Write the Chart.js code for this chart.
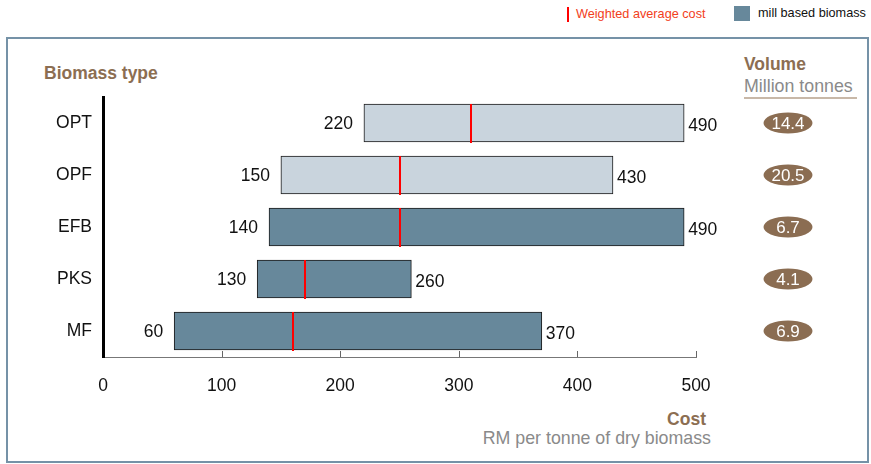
<!DOCTYPE html>
<html>
<head>
<meta charset="utf-8">
<script src="https://cdn.jsdelivr.net/npm/chart.js@4"></script>
<style>
  body { margin: 0; background: #fff; font-family: "Liberation Sans", Arial, sans-serif; }
  #wrap { position: relative; width: 871px; height: 464px; overflow: hidden; }
  #frame { position: absolute; left: 6px; top: 37px; width: 859px; height: 422px; border: 2px solid #7592a7; }
  canvas { position: absolute; left: 0; top: 0; }
  .txt { position: absolute; white-space: nowrap; line-height: 1; }
  .brown { color: #8c6e52; font-weight: bold; font-size: 17.5px; }
  .grey { color: #8a8a8a; font-size: 17.8px; }
</style>
</head>
<body>
<div id="wrap">
  <div id="frame"></div>

  <!-- legend -->
  <div style="position:absolute;left:567px;top:7px;width:2px;height:15px;background:#f00;"></div>
  <div class="txt" style="left:576px;top:8px;font-size:12.7px;color:#f2401c;">Weighted average cost</div>
  <div style="position:absolute;left:734px;top:6px;width:16px;height:15px;background:#67889b;"></div>
  <div class="txt" style="left:758px;top:7px;font-size:12.7px;color:#111;">mill based biomass</div>

  <div class="txt brown" style="left:44px;top:65px;">Biomass type</div>
  <div class="txt brown" style="left:744px;top:56px;">Volume</div>
  <div class="txt grey" style="left:744px;top:78px;">Million tonnes</div>
  <div style="position:absolute;left:744px;top:97px;width:113px;height:2px;background:#c8b8a8;"></div>

  <div class="txt brown" style="right:165px;top:411px;">Cost</div>
  <div class="txt grey" style="right:160px;top:430px;">RM per tonne of dry biomass</div>

  <canvas id="c" width="871" height="464"></canvas>
</div>

<script>
// cost ranges per biomass type (RM / tonne dry biomass)
const types = ['OPT', 'OPF', 'EFB', 'PKS', 'MF'];
const costLow = [220, 150, 140, 130, 60];
const costHigh = [490, 430, 490, 260, 370];
const weightedAvg = [310, 250, 250, 170, 160];
const volume = ['14.4', '20.5', '6.7', '4.1', '6.9'];
const millBased = [false, false, true, true, true];
const xTicks = [0, 100, 200, 300, 400, 500];

const FONT = '"Liberation Sans", Arial, sans-serif';
const DARK = '#67889b';
const LIGHT = '#c9d4dd';

// red avg markers, end labels, volume pills and inward x ticks
const overlay = {
  id: 'overlay',
  afterDatasetsDraw(chart) {
    const { ctx, scales: { x, y } } = chart;
    const meta = chart.getDatasetMeta(0);
    ctx.save();

    // x ticks pointing up into the plot
    ctx.strokeStyle = '#666';
    ctx.lineWidth = 1;
    xTicks.forEach(v => {
      if (v === 0) return;
      const px = Math.round(x.getPixelForValue(v)) + 0.5;
      ctx.beginPath();
      ctx.moveTo(px, y.bottom - 6);
      ctx.lineTo(px, y.bottom);
      ctx.stroke();
    });

    types.forEach((t, i) => {
      const cy = y.getPixelForValue(i);
      const bar = meta.data[i];
      const half = bar.height / 2;

      // weighted average cost marker
      const ax = Math.round(x.getPixelForValue(weightedAvg[i]));
      ctx.fillStyle = '#f00';
      ctx.fillRect(ax - 1, cy - half, 2, half * 2 + 1);

      // low / high cost labels
      ctx.fillStyle = '#111';
      ctx.font = '17.5px ' + FONT;
      ctx.textBaseline = 'middle';
      ctx.textAlign = 'right';
      ctx.fillText(String(costLow[i]), x.getPixelForValue(costLow[i]) - 11, cy + 1);
      ctx.textAlign = 'left';
      ctx.fillText(String(costHigh[i]), x.getPixelForValue(costHigh[i]) + 4, cy + 3);

      // volume pill
      ctx.fillStyle = '#8b6d52';
      ctx.beginPath();
      ctx.ellipse(788, cy, 24.5, 10.5, 0, 0, Math.PI * 2);
      ctx.fill();
      ctx.fillStyle = '#fff';
      ctx.textAlign = 'center';
      ctx.font = '17px ' + FONT;
      ctx.fillText(volume[i], 788, cy + 1);
    });
    ctx.restore();
  }
};

new Chart(document.getElementById('c'), {
  type: 'bar',
  data: {
    labels: types,
    datasets: [{
      data: types.map((t, i) => [costLow[i], costHigh[i]]),
      backgroundColor: millBased.map(m => m ? DARK : LIGHT),
      borderColor: '#1a1a1a',
      borderWidth: 1,
      borderSkipped: false,
      barThickness: 38
    }]
  },
  options: {
    indexAxis: 'y',
    responsive: false,
    animation: false,
    devicePixelRatio: 1,
    layout: { padding: { left: 0, top: 97, right: 175, bottom: 0 } },
    plugins: { legend: { display: false }, tooltip: { enabled: false } },
    scales: {
      x: {
        min: 0,
        max: 500,
        afterFit(scale) { scale.height = 107; },
        afterBuildTicks(scale) { scale.ticks = xTicks.map(v => ({ value: v })); },
        grid: { display: false, drawTicks: false },
        border: { display: true, color: '#777', width: 1 },
        ticks: { color: '#111', padding: 19, font: { family: FONT, size: 17.5 } }
      },
      y: {
        afterFit(scale) { scale.width = 103; },
        grid: { display: false, drawTicks: false },
        border: { display: true, color: '#000', width: 3 },
        ticks: { color: '#111', padding: 11, font: { family: FONT, size: 17.5 } }
      }
    }
  },
  plugins: [overlay]
});
</script>
</body>
</html>
